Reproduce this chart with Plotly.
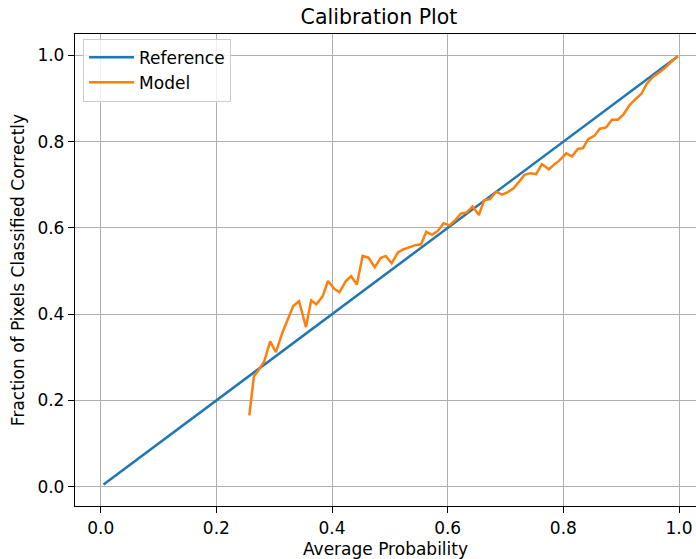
import plotly.graph_objects as go

ref_x = [0.005, 0.998]
ref_y = [0.005, 0.998]

model_x = [0.257, 0.265, 0.273, 0.283, 0.293, 0.303, 0.315, 0.325, 0.333, 0.343,
           0.355, 0.364, 0.373, 0.384, 0.393, 0.404, 0.413, 0.424, 0.433, 0.443,
           0.453, 0.463, 0.474, 0.484, 0.493, 0.503, 0.514, 0.523, 0.534, 0.544,
           0.554, 0.563, 0.573, 0.583, 0.593, 0.603, 0.613, 0.623, 0.633, 0.643,
           0.654, 0.663, 0.673, 0.684, 0.694, 0.704, 0.714, 0.724, 0.733, 0.743,
           0.753, 0.763, 0.775, 0.785, 0.793, 0.805, 0.815, 0.825, 0.834, 0.843,
           0.854, 0.863, 0.874, 0.884, 0.894, 0.904, 0.914, 0.925, 0.935, 0.944,
           0.955, 0.965, 0.975, 0.985, 0.998]
model_y = [0.165, 0.256, 0.270, 0.291, 0.337, 0.312, 0.360, 0.395, 0.419, 0.430,
           0.370, 0.432, 0.423, 0.442, 0.477, 0.459, 0.451, 0.477, 0.488, 0.469,
           0.535, 0.531, 0.509, 0.530, 0.535, 0.518, 0.543, 0.550, 0.556, 0.560,
           0.562, 0.591, 0.584, 0.593, 0.611, 0.606, 0.618, 0.633, 0.636, 0.650,
           0.630, 0.664, 0.667, 0.684, 0.677, 0.683, 0.692, 0.707, 0.723, 0.727,
           0.725, 0.748, 0.736, 0.748, 0.756, 0.773, 0.766, 0.783, 0.785, 0.806,
           0.814, 0.830, 0.833, 0.851, 0.851, 0.863, 0.884, 0.899, 0.911, 0.934,
           0.950, 0.960, 0.970, 0.983, 0.998]

tick_vals = [0.0, 0.2, 0.4, 0.6, 0.8, 1.0]
tick_text = ["0.0", "0.2", "0.4", "0.6", "0.8", "1.0"]

FONT = "DejaVu Sans"

fig = go.Figure()
fig.add_trace(go.Scatter(x=ref_x, y=ref_y, mode="lines", name="Reference",
                         line=dict(color="#1f77b4", width=2.5)))
fig.add_trace(go.Scatter(x=model_x, y=model_y, mode="lines", name="Model",
                         line=dict(color="#ff7f0e", width=2.5)))

axis_common = dict(
    showgrid=True, gridcolor="#b0b0b0", gridwidth=1.2,
    zeroline=False, showline=True, linecolor="black", linewidth=1.3,
    ticks="outside", ticklen=6, tickwidth=1.3, tickcolor="black",
    tickfont=dict(family=FONT, size=17, color="black"),
    tickvals=tick_vals, ticktext=tick_text,
)

fig.update_layout(
    width=696, height=559,
    margin=dict(l=75, r=0, t=34, b=53),
    paper_bgcolor="white", plot_bgcolor="white",
    font=dict(family=FONT, size=17, color="black"),
    title=dict(text="Calibration Plot", x=0.5445, xanchor="center",
               y=1 - 17 / 559, yanchor="middle", yref="container",
               font=dict(family=FONT, size=20.5, color="black")),
    xaxis=dict(range=[-0.0444, 1.0294], mirror=True,
               title=dict(text="Average Probability", standoff=6,
                          font=dict(family=FONT, size=17)),
               **axis_common),
    yaxis=dict(range=[-0.0448, 1.0497], mirror=False,
               title=dict(text="Fraction of Pixels Classified Correctly", standoff=8,
                          font=dict(family=FONT, size=17)),
               **axis_common),
    legend=dict(x=0.013, y=0.99, xanchor="left", yanchor="top",
                bgcolor="rgba(255,255,255,0.8)", bordercolor="#cccccc", borderwidth=1,
                font=dict(family=FONT, size=17, color="black"),
                tracegroupgap=0, itemwidth=45),
    showlegend=True,
)

fig.write_html("out.html")
